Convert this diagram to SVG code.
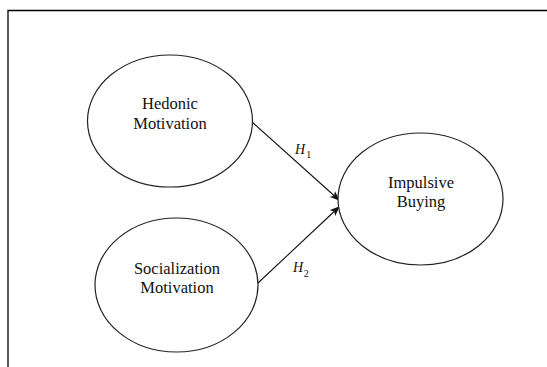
<svg xmlns="http://www.w3.org/2000/svg" width="547" height="367" viewBox="0 0 547 367">
<style>
.node ellipse{fill:#fff;stroke:#222;stroke-width:1.2}
.lbl{font-size:16.5px;fill:#111;text-anchor:middle}
.conn line{stroke:#111;stroke-width:1.1;fill:none}
.h{font-style:italic;font-size:14px;fill:#111}
.sub{font-style:normal;font-size:10px}
</style>
<defs>
<marker id="arr" markerWidth="10" markerHeight="8" refX="9" refY="4" orient="auto" markerUnits="userSpaceOnUse">
<path d="M0,0 L10,4 L0,8 L2.5,4 Z" fill="#111"/>
</marker>
</defs>
<rect width="547" height="367" fill="#fff"/>
<path d="M8,367 V10.5 H547" fill="none" stroke="#000" stroke-width="1.3"/>
<g font-family="Liberation Serif, DejaVu Serif, serif">
<g class="conn">
<line x1="252" y1="122" x2="339" y2="200" marker-end="url(#arr)"/>
<line x1="258" y1="283" x2="339" y2="207" marker-end="url(#arr)"/>
<text class="h" x="295" y="154">H<tspan class="sub" dx="1" dy="4">1</tspan></text>
<text class="h" x="293" y="272">H<tspan class="sub" dx="0.5" dy="5">2</tspan></text>
</g>
<g id="hedonic" class="node">
<ellipse cx="170" cy="121" rx="82.5" ry="66"/>
<text class="lbl" x="170" y="109">Hedonic</text>
<text class="lbl" x="170" y="129">Motivation</text>
</g>
<g id="socialization" class="node">
<ellipse cx="176.5" cy="285" rx="81.5" ry="67"/>
<text class="lbl" x="177" y="274">Socialization</text>
<text class="lbl" x="177" y="293">Motivation</text>
</g>
<g id="impulsive" class="node">
<ellipse cx="420.5" cy="199" rx="82.5" ry="66"/>
<text class="lbl" x="421" y="188">Impulsive</text>
<text class="lbl" x="421" y="207">Buying</text>
</g>
</g>
</svg>
